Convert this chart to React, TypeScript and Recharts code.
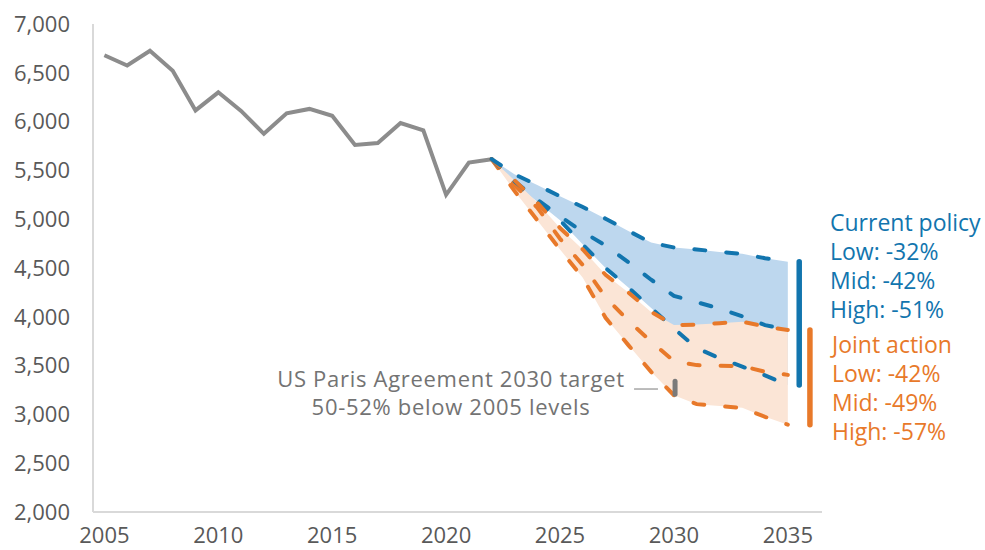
import {
  ComposedChart,
  Line,
  Area,
  XAxis,
  YAxis,
  ReferenceLine,
} from "recharts";

const COLORS = {
  hist: "#8c8c8c",
  blue: "#1275ae",
  blueFill: "#bdd7ee",
  orange: "#e8792a",
  orangeFill: "#fbe5d6",
  axis: "#d9d9d9",
  tick: "#595959",
  note: "#737373",
  target: "#7a7a7a",
};

/* ── data ── */
const histYears = [2005, 2006, 2007, 2008, 2009, 2010, 2011, 2012, 2013, 2014, 2015, 2016, 2017, 2018, 2019, 2020, 2021, 2022];
const histValues = [6680, 6575, 6725, 6520, 6115, 6300, 6110, 5875, 6085, 6130, 6060, 5760, 5780, 5985, 5910, 5250, 5580, 5615];

const projYears = [2022, 2023, 2024, 2025, 2026, 2027, 2028, 2029, 2030, 2031, 2032, 2033, 2034, 2035];
const cpLow = [5615, 5460, 5350, 5235, 5125, 5005, 4880, 4760, 4710, 4690, 4665, 4645, 4600, 4565];
const cpMid = [5615, 5390, 5200, 5030, 4870, 4730, 4560, 4380, 4215, 4150, 4085, 4005, 3915, 3865];
const cpHigh = [5615, 5370, 5180, 4990, 4740, 4500, 4300, 4090, 3880, 3680, 3575, 3490, 3400, 3300];
const jaLow = [5615, 5400, 5170, 4910, 4690, 4430, 4250, 4050, 3915, 3920, 3935, 3950, 3900, 3865];
const jaMid = [5615, 5350, 5120, 4800, 4530, 4200, 3960, 3745, 3546, 3505, 3498, 3495, 3436, 3405];
const jaHigh = [5615, 5290, 4990, 4690, 4400, 3990, 3710, 3436, 3197, 3105, 3085, 3067, 2975, 2895];

const xTicks = [2005, 2010, 2015, 2020, 2025, 2030, 2035];
const yTicks = [2000, 2500, 3000, 3500, 4000, 4500, 5000, 5500, 6000, 6500, 7000];

// Paris target: 50-52% below 2005
const targetYear = 2030;
const targetRange = [3340, 3207];

const cpLabels = ["Current policy", "Low: -32%", "Mid: -42%", "High: -51%"];
const jaLabels = ["Joint action", "Low: -42%", "Mid: -49%", "High: -57%"];
const noteLines = ["US Paris Agreement 2030 target", "50-52% below 2005 levels"];

const allYears = Array.from(new Set([...histYears, ...projYears]));
const data = allYears.map((year) => {
  const h = histYears.indexOf(year);
  const p = projYears.indexOf(year);
  return {
    year,
    hist: h >= 0 ? histValues[h] : null,
    cpLow: p >= 0 ? cpLow[p] : null,
    cpMid: p >= 0 ? cpMid[p] : null,
    cpHigh: p >= 0 ? cpHigh[p] : null,
    jaLow: p >= 0 ? jaLow[p] : null,
    jaMid: p >= 0 ? jaMid[p] : null,
    jaHigh: p >= 0 ? jaHigh[p] : null,
    cpBand: p >= 0 ? [cpHigh[p], cpLow[p]] : null,
    jaBand: p >= 0 ? [jaHigh[p], jaLow[p]] : null,
  };
});

const last = projYears.length - 1;
const FONT = "'Open Sans', 'Noto Sans', sans-serif";
const dash = { strokeWidth: 4, strokeDasharray: "11 21", strokeLinecap: "round" as const };

function LabelBlock({ lines, color, left, top }: { lines: string[]; color: string; left: number; top: number }) {
  return (
    <div
      style={{
        position: "absolute",
        left,
        top,
        color,
        fontFamily: FONT,
        fontSize: 23,
        lineHeight: "29px",
        whiteSpace: "nowrap",
      }}
    >
      {lines.map((l) => (
        <div key={l}>{l}</div>
      ))}
    </div>
  );
}

export default function App() {
  return (
    <div style={{ position: "absolute", left: 0, top: 0, width: 985, height: 550, background: "#fff", overflow: "hidden" }}>
      <ComposedChart width={985} height={550} data={data} margin={{ top: 24, right: 163, bottom: 0, left: 0 }}>
        <XAxis
          dataKey="year"
          type="number"
          domain={[2004.5, 2036.5]}
          ticks={xTicks}
          allowDataOverflow
          height={38}
          tickSize={0}
          tickMargin={15}
          tickLine={false}
          axisLine={{ stroke: COLORS.axis, strokeWidth: 2 }}
          tick={{ fontSize: 22, fill: COLORS.tick, fontFamily: FONT }}
        />
        <YAxis
          domain={[2000, 7000]}
          ticks={yTicks}
          width={93}
          tickSize={0}
          tickMargin={23}
          tickLine={false}
          axisLine={{ stroke: COLORS.axis, strokeWidth: 2 }}
          tick={{ fontSize: 22, fill: COLORS.tick, fontFamily: FONT }}
          tickFormatter={(v: number) => v.toLocaleString("en-US")}
        />
        <Area type="linear" dataKey="cpBand" stroke="none" fill={COLORS.blueFill} fillOpacity={1} isAnimationActive={false} />
        <Area type="linear" dataKey="jaBand" stroke="none" fill={COLORS.orangeFill} fillOpacity={1} isAnimationActive={false} />

        <Line type="linear" dataKey="hist" stroke={COLORS.hist} strokeWidth={4} dot={false} isAnimationActive={false} />

        <Line type="linear" dataKey="jaHigh" stroke={COLORS.orange} {...dash} dot={false} isAnimationActive={false} />
        <Line type="linear" dataKey="cpHigh" stroke={COLORS.blue} {...dash} dot={false} isAnimationActive={false} />
        <Line type="linear" dataKey="jaMid" stroke={COLORS.orange} {...dash} dot={false} isAnimationActive={false} />
        <Line type="linear" dataKey="cpMid" stroke={COLORS.blue} {...dash} dot={false} isAnimationActive={false} />
        <Line type="linear" dataKey="jaLow" stroke={COLORS.orange} {...dash} dot={false} isAnimationActive={false} />
        <Line type="linear" dataKey="cpLow" stroke={COLORS.blue} {...dash} dot={false} isAnimationActive={false} />

        {/* range bars at the right */}
        <ReferenceLine
          segment={[{ x: 2035.5, y: cpLow[last] }, { x: 2035.5, y: cpHigh[last] }]}
          stroke={COLORS.blue}
          strokeWidth={5.5}
          strokeLinecap="round"
        />
        <ReferenceLine
          segment={[{ x: 2035.97, y: jaLow[last] }, { x: 2035.97, y: jaHigh[last] }]}
          stroke={COLORS.orange}
          strokeWidth={5.5}
          strokeLinecap="round"
        />

        {/* Paris target marker + leader */}
        <ReferenceLine
          segment={[{ x: targetYear + 0.05, y: targetRange[0] }, { x: targetYear + 0.05, y: targetRange[1] }]}
          stroke={COLORS.target}
          strokeWidth={5}
          strokeLinecap="round"
        />
        <ReferenceLine
          segment={[{ x: 2028.25, y: 3260 }, { x: 2029.3, y: 3260 }]}
          stroke="#a6a6a6"
          strokeWidth={1.5}
        />
      </ComposedChart>

      <div
        style={{
          position: "absolute",
          left: 251,
          top: 364,
          width: 400,
          textAlign: "center",
          color: COLORS.note,
          fontFamily: FONT,
          fontSize: 22,
          letterSpacing: 0.7,
          lineHeight: "28px",
          whiteSpace: "nowrap",
        }}
      >
        {noteLines.map((l) => (
          <div key={l}>{l}</div>
        ))}
      </div>

      <LabelBlock lines={cpLabels} color={COLORS.blue} left={830} top={208} />
      <LabelBlock lines={jaLabels} color={COLORS.orange} left={832} top={330} />
    </div>
  );
}
